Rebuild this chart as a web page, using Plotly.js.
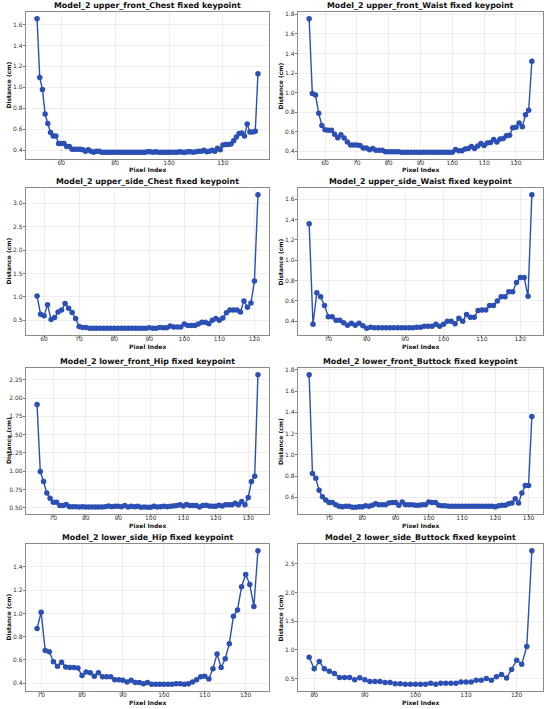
<!DOCTYPE html>
<html><head><meta charset="utf-8">
<script src="https://cdn.plot.ly/plotly-3.0.1.min.js"></script>
<style>html,body{margin:0;padding:0;background:#fff}#chart{width:550px;height:709px}</style>
</head><body><div id="chart"></div>
<script>
const titles = [
  "Model_2 upper_front_Chest fixed keypoint",
  "Model_2 upper_front_Waist fixed keypoint",
  "Model_2 upper_side_Chest fixed keypoint",
  "Model_2 upper_side_Waist fixed keypoint",
  "Model_2 lower_front_Hip fixed keypoint",
  "Model_2 lower_front_Buttock fixed keypoint",
  "Model_2 lower_side_Hip fixed keypoint",
  "Model_2 lower_side_Buttock fixed keypoint"
];
const xLabel = "Pixel Index";
const yLabel = "Distance (cm)";
const xStart = [51, 55, 58, 65, 65, 64, 69, 79];

const upperFrontChest = [1.655,1.095,0.98,0.745,0.655,0.57,0.535,0.535,0.465,0.465,
0.465,0.435,0.435,0.41,0.41,0.41,0.41,0.405,0.39,0.405,
0.39,0.38,0.39,0.39,0.38,0.38,0.38,0.38,0.38,0.38,
0.38,0.38,0.38,0.38,0.38,0.38,0.38,0.38,0.38,0.38,
0.38,0.385,0.385,0.38,0.385,0.38,0.38,0.38,0.38,0.38,
0.38,0.38,0.38,0.385,0.38,0.38,0.385,0.385,0.38,0.385,
0.39,0.39,0.40,0.385,0.39,0.40,0.39,0.42,0.405,0.45,
0.455,0.455,0.46,0.49,0.525,0.56,0.565,0.535,0.65,0.575,
0.575,0.58,1.13];

const upperFrontWaist = [1.755,0.99,0.975,0.79,0.665,0.62,0.615,0.615,0.575,0.54,
0.57,0.535,0.495,0.465,0.465,0.465,0.46,0.435,0.435,0.415,
0.43,0.41,0.41,0.41,0.395,0.395,0.395,0.395,0.395,0.39,
0.39,0.39,0.39,0.39,0.39,0.39,0.39,0.39,0.39,0.39,
0.39,0.39,0.39,0.39,0.39,0.39,0.42,0.405,0.405,0.425,
0.43,0.45,0.43,0.455,0.48,0.46,0.485,0.49,0.52,0.495,
0.525,0.53,0.56,0.565,0.64,0.645,0.69,0.65,0.775,0.82,
1.32];

const upperSideChest = [1.02,0.63,0.60,0.83,0.52,0.56,0.68,0.72,0.86,0.76,
0.67,0.54,0.37,0.35,0.35,0.33,0.33,0.33,0.33,0.33,
0.33,0.33,0.33,0.33,0.33,0.33,0.33,0.33,0.33,0.33,
0.33,0.33,0.34,0.33,0.33,0.35,0.34,0.34,0.38,0.36,
0.36,0.36,0.42,0.39,0.39,0.39,0.42,0.46,0.46,0.43,
0.50,0.54,0.50,0.55,0.66,0.72,0.72,0.72,0.68,0.91,
0.78,0.87,1.34,3.18];

const upperSideWaist = [1.36,0.37,0.68,0.64,0.555,0.445,0.445,0.41,0.41,0.385,
0.36,0.38,0.36,0.38,0.355,0.33,0.34,0.335,0.335,0.335,
0.335,0.335,0.335,0.335,0.335,0.335,0.335,0.335,0.34,0.34,
0.35,0.35,0.35,0.37,0.35,0.37,0.40,0.40,0.375,0.43,
0.40,0.465,0.44,0.44,0.505,0.51,0.51,0.555,0.555,0.60,
0.64,0.64,0.69,0.69,0.78,0.83,0.83,0.645,1.645];

const lowerFrontHip = [1.91,0.995,0.86,0.70,0.63,0.575,0.575,0.53,0.53,0.545,
0.515,0.515,0.515,0.51,0.515,0.51,0.51,0.51,0.51,0.51,
0.51,0.515,0.525,0.515,0.52,0.52,0.515,0.53,0.51,0.52,
0.515,0.52,0.505,0.51,0.505,0.505,0.52,0.51,0.515,0.52,
0.515,0.52,0.525,0.53,0.54,0.525,0.545,0.53,0.53,0.53,
0.51,0.53,0.535,0.525,0.52,0.52,0.535,0.525,0.54,0.54,
0.54,0.56,0.54,0.585,0.54,0.64,0.86,0.93,2.32];

const lowerFrontButtock = [1.755,0.825,0.78,0.665,0.605,0.575,0.55,0.55,0.53,0.515,
0.51,0.515,0.515,0.505,0.505,0.51,0.51,0.52,0.515,0.525,
0.54,0.53,0.53,0.53,0.545,0.55,0.55,0.525,0.555,0.53,
0.53,0.53,0.525,0.525,0.53,0.53,0.555,0.55,0.55,0.525,
0.52,0.52,0.515,0.515,0.515,0.515,0.515,0.515,0.515,0.515,
0.515,0.515,0.515,0.515,0.515,0.515,0.51,0.52,0.525,0.525,
0.54,0.545,0.585,0.545,0.64,0.71,0.71,1.36];

const lowerSideHip = [0.87,1.01,0.68,0.67,0.585,0.545,0.58,0.54,0.535,0.535,
0.53,0.465,0.495,0.49,0.46,0.49,0.455,0.455,0.455,0.43,
0.43,0.425,0.41,0.425,0.405,0.405,0.395,0.405,0.39,0.39,
0.39,0.39,0.39,0.39,0.395,0.395,0.39,0.395,0.41,0.43,
0.455,0.46,0.435,0.525,0.65,0.535,0.61,0.74,0.975,1.03,
1.23,1.335,1.25,1.06,1.54];

const lowerSideButtock = [0.87,0.67,0.80,0.67,0.63,0.59,0.52,0.52,0.52,0.48,
0.515,0.48,0.45,0.45,0.45,0.43,0.43,0.41,0.41,0.40,
0.40,0.40,0.40,0.40,0.42,0.40,0.42,0.42,0.42,0.42,
0.44,0.44,0.44,0.47,0.47,0.50,0.47,0.53,0.57,0.51,
0.66,0.82,0.75,1.06,2.73];

const series = [upperFrontChest, upperFrontWaist, upperSideChest, upperSideWaist,
  lowerFrontHip, lowerFrontButtock, lowerSideHip, lowerSideButtock];
const xDtick = [20, 10, 10, 10, 10, 10, 10, 10];
const yDtick = [0.2, 0.2, 0.5, 0.2, 0.25, 0.2, 0.2, 0.5];
const yFmt = ['.1f','.1f','.1f','.1f','.2f','.1f','.1f','.1f'];

const W = 550, H = 709;
const colPx = [[26, 269], [298, 543]];
const yLabelPx = [8, 280];
const rowPx = [[12, 159], [188, 335], [368, 514], [544, 691]];
const color = '#2c4fb3';
const font = "DejaVu Sans, Arial, sans-serif";

const data = [], annotations = [];
const layout = {
  width: W, height: H, margin: {l: 0, r: 0, t: 0, b: 0},
  paper_bgcolor: '#fff', plot_bgcolor: '#fff', showlegend: false,
  font: {family: font, color: '#222', size: 6}
};

series.forEach((ys, i) => {
  const xs = ys.map((_, k) => xStart[i] + k);
  const ax = i === 0 ? '' : String(i + 1);
  data.push({
    x: xs, y: ys, type: 'scatter', mode: 'lines+markers',
    xaxis: 'x' + ax, yaxis: 'y' + ax,
    line: {color: color, width: 1.4},
    marker: {color: color, size: 5.5}
  });
  const c = colPx[i % 2], r = rowPx[Math.floor(i / 2)];
  const xmin = Math.min(...xs), xmax = Math.max(...xs);
  const ymin = Math.min(...ys), ymax = Math.max(...ys);
  const px = (xmax - xmin) * 0.05, py = (ymax - ymin) * 0.05;
  const common = {
    showline: true, mirror: true, linecolor: '#8a8a8a', linewidth: 1.2,
    showgrid: true, gridcolor: 'rgba(0,0,0,0.09)', gridwidth: 0.7,
    zeroline: false, ticks: 'outside', ticklen: 2, tickwidth: 0.8, tickcolor: '#555',
    tickfont: {family: font, size: 6, color: '#333'}
  };
  layout['xaxis' + ax] = Object.assign({}, common, {
    domain: [c[0] / W, c[1] / W], anchor: 'y' + ax,
    range: [xmin - px, xmax + px], dtick: xDtick[i], tick0: 0,
    ticklabelstandoff: -4
  });
  layout['yaxis' + ax] = Object.assign({}, common, {
    domain: [1 - r[1] / H, 1 - r[0] / H], anchor: 'x' + ax,
    range: [ymin - py, ymax + py], dtick: yDtick[i], tick0: 0, tickformat: yFmt[i],
    ticklabelstandoff: -1
  });
  annotations.push({
    text: '<b>' + titles[i] + '</b>', xref: 'paper', yref: 'paper',
    x: (c[0] + c[1]) / 2 / W, y: 1 - r[0] / H, xanchor: 'center', yanchor: 'bottom',
    yshift: 0, showarrow: false, font: {family: font, size: 7.9, color: '#111'}
  });
  annotations.push({
    text: '<b>' + xLabel + '</b>', xref: 'paper', yref: 'paper',
    x: (c[0] + c[1]) / 2 / W, y: 1 - (r[1] + 11) / H, xanchor: 'center', yanchor: 'middle',
    showarrow: false, font: {family: font, size: 6, color: '#111'}
  });
  annotations.push({
    text: '<b>' + yLabel + '</b>', xref: 'paper', yref: 'paper', textangle: -90,
    x: yLabelPx[i % 2] / W, y: 1 - (r[0] + r[1]) / 2 / H, xanchor: 'center', yanchor: 'middle',
    showarrow: false, font: {family: font, size: 6, color: '#111'}
  });
});
layout.annotations = annotations;
Plotly.newPlot('chart', data, layout, {displayModeBar: false, staticPlot: true});
</script></body></html>
